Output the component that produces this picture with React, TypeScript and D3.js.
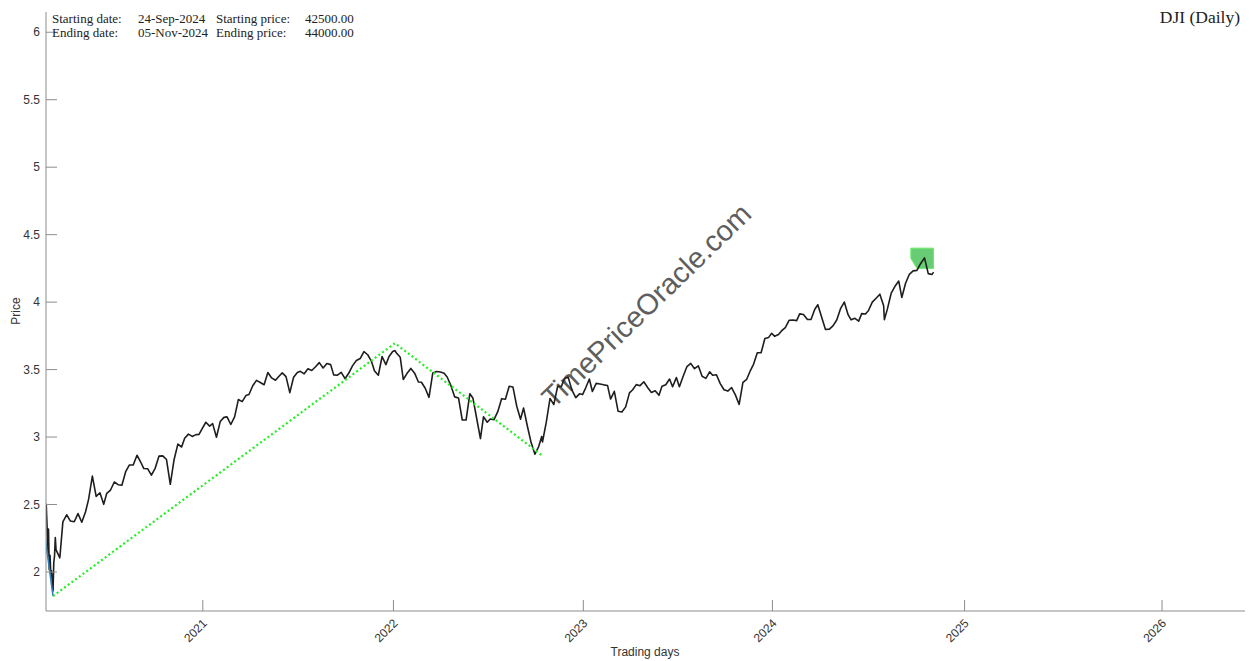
import React from "react";
import * as d3 from "d3";

// ---------- DATA ----------
const dailyDates = ["2020-03-09","2020-03-10","2020-03-11","2020-03-12","2020-03-13","2020-03-16","2020-03-17","2020-03-18","2020-03-19","2020-03-20","2020-03-23","2020-03-24","2020-03-25","2020-03-26","2020-03-27"];
const dailyClose = [23851,25018,23553,21200,23185,20189,21237,19899,20087,19174,18592,20705,21200,22552,21637];

const weekDates = [
"2020-04-03","2020-04-09","2020-04-17","2020-04-24","2020-05-01","2020-05-08","2020-05-15","2020-05-22","2020-05-29","2020-06-05","2020-06-12","2020-06-19","2020-06-26","2020-07-02","2020-07-10","2020-07-17","2020-07-24","2020-07-31","2020-08-07","2020-08-14","2020-08-21","2020-08-28","2020-09-04","2020-09-11","2020-09-18","2020-09-25","2020-10-02","2020-10-09","2020-10-16","2020-10-23","2020-10-30","2020-11-06","2020-11-13","2020-11-20","2020-11-27","2020-12-04","2020-12-11","2020-12-18","2020-12-24","2020-12-31",
"2021-01-08","2021-01-15","2021-01-22","2021-01-29","2021-02-05","2021-02-12","2021-02-19","2021-02-26","2021-03-05","2021-03-12","2021-03-19","2021-03-26","2021-04-01","2021-04-09","2021-04-16","2021-04-23","2021-04-30","2021-05-07","2021-05-14","2021-05-21","2021-05-28","2021-06-04","2021-06-11","2021-06-18","2021-06-25","2021-07-02","2021-07-09","2021-07-16","2021-07-23","2021-07-30","2021-08-06","2021-08-13","2021-08-20","2021-08-27","2021-09-03","2021-09-10","2021-09-17","2021-09-24","2021-10-01","2021-10-08","2021-10-15","2021-10-22","2021-10-29","2021-11-05","2021-11-12","2021-11-19","2021-11-26","2021-12-03","2021-12-10","2021-12-17","2021-12-23","2021-12-31",
"2022-01-05","2022-01-07","2022-01-14","2022-01-21","2022-01-28","2022-02-04","2022-02-11","2022-02-18","2022-02-25","2022-03-04","2022-03-11","2022-03-18","2022-03-25","2022-04-01","2022-04-08","2022-04-14","2022-04-22","2022-04-29","2022-05-06","2022-05-13","2022-05-20","2022-05-27","2022-06-03","2022-06-10","2022-06-17","2022-06-24","2022-07-01","2022-07-08","2022-07-15","2022-07-22","2022-07-29","2022-08-05","2022-08-12","2022-08-19","2022-08-26","2022-09-02","2022-09-09","2022-09-16","2022-09-23","2022-09-30","2022-10-07","2022-10-13","2022-10-14","2022-10-21","2022-10-28","2022-11-04","2022-11-11","2022-11-18","2022-11-25","2022-12-02","2022-12-09","2022-12-16","2022-12-23","2022-12-30",
"2023-01-06","2023-01-13","2023-01-20","2023-01-27","2023-02-03","2023-02-10","2023-02-17","2023-02-24","2023-03-03","2023-03-10","2023-03-17","2023-03-24","2023-03-31","2023-04-06","2023-04-14","2023-04-21","2023-04-28","2023-05-05","2023-05-12","2023-05-19","2023-05-26","2023-06-02","2023-06-09","2023-06-16","2023-06-23","2023-06-30","2023-07-07","2023-07-14","2023-07-21","2023-07-28","2023-08-04","2023-08-11","2023-08-18","2023-08-25","2023-09-01","2023-09-08","2023-09-15","2023-09-22","2023-09-29","2023-10-06","2023-10-13","2023-10-20","2023-10-27","2023-11-03","2023-11-10","2023-11-17","2023-11-24","2023-12-01","2023-12-08","2023-12-15","2023-12-22","2023-12-29",
"2024-01-05","2024-01-12","2024-01-19","2024-01-26","2024-02-02","2024-02-09","2024-02-16","2024-02-23","2024-03-01","2024-03-08","2024-03-15","2024-03-22","2024-03-28","2024-04-05","2024-04-12","2024-04-19","2024-04-26","2024-05-03","2024-05-10","2024-05-17","2024-05-24","2024-05-31","2024-06-07","2024-06-14","2024-06-21","2024-06-28","2024-07-05","2024-07-12","2024-07-19","2024-07-26","2024-08-02","2024-08-05","2024-08-09","2024-08-16","2024-08-23","2024-08-30","2024-09-06","2024-09-13","2024-09-20","2024-09-27","2024-10-04","2024-10-11","2024-10-18","2024-10-25","2024-11-01","2024-11-05"
];
const weekClose = [
21053,23719,24242,23775,23724,24331,23685,24465,25383,27111,25606,25871,25016,25827,26075,26672,26470,26428,27433,27931,27930,28654,28133,27666,27657,27174,27682,28586,28606,28335,26502,28323,29479,29263,29910,30218,30046,30179,30200,30606,
31098,30814,30997,29983,31148,31458,31494,30932,31496,32779,32628,33072,33153,33801,34200,34043,33875,34778,34382,34208,34529,34756,34480,33290,34434,34786,34870,34687,35062,34935,35209,35515,35120,35456,35369,34607,34584,34798,34326,34746,35295,35677,35820,36328,36100,35602,34899,34580,35971,35365,35950,36338,
36407,36231,35912,34265,34725,35089,34738,34079,34059,33615,32944,34755,34861,34818,34721,34451,33811,32977,32899,31262,31262,33213,32900,31393,29888,31501,31097,31338,31289,31899,32845,32803,33761,33707,32283,31318,32152,30822,29590,28726,29297,30038,29635,31083,32862,32403,33748,33746,34347,34430,33477,32920,33204,33147,
33631,34303,33375,33978,33926,33870,33827,32817,33391,31910,31862,32238,33274,33485,33886,33809,34098,33674,33301,33427,33093,33763,33877,34299,33727,34408,33735,34509,35228,35460,35066,35281,34501,34347,34838,34577,34618,33964,33508,33408,33670,33127,32418,34061,34283,34947,35390,36246,36248,37306,37386,37690,
37466,37593,37864,38109,38654,38671,38628,39131,39087,38723,38715,39476,39807,38904,37983,37986,38240,38676,39513,40004,39070,38686,38799,38589,39150,39119,39376,40001,40288,40589,39737,38703,39498,40660,41175,41563,40345,41394,42063,42313,42353,42864,43276,42114,42052,42222
];

const trendDates = ["2020-03-23","2022-01-05","2022-10-13"];
const trendPrices = [18213,36952,28660];

const blueDates = ["2020-02-12","2020-03-23"];
const bluePrices = [29568,18213];

const boxDates = ["2024-09-24","2024-11-05","2024-11-05","2024-10-04","2024-09-24"];
const boxPrices = [44000,44000,42500,42500,43250];

const yearTickDates = ["2021-01-04","2022-01-03","2023-01-03","2024-01-02","2025-01-01","2026-01-01"];
const yearTickLabels = ["2021","2022","2023","2024","2025","2026"];
const priceTicks = [2,2.5,3,3.5,4,4.5,5,5.5,6];

const infoRows = [
  ["Starting date:","24-Sep-2024","Starting price:","42500.00"],
  ["Ending date:","05-Nov-2024","Ending price:","44000.00"],
];

const HOLIDAYS = new Set([
"2020-02-17","2020-04-10","2020-05-25","2020-07-03","2020-09-07","2020-11-26","2020-12-25",
"2021-01-01","2021-01-18","2021-02-15","2021-04-02","2021-05-31","2021-07-05","2021-09-06","2021-11-25","2021-12-24",
"2022-01-17","2022-02-21","2022-04-15","2022-05-30","2022-06-20","2022-07-04","2022-09-05","2022-11-24","2022-12-26",
"2023-01-02","2023-01-16","2023-02-20","2023-04-07","2023-05-29","2023-06-19","2023-07-04","2023-09-04","2023-11-23","2023-12-25",
"2024-01-01","2024-01-15","2024-02-19","2024-03-29","2024-05-27","2024-06-19","2024-07-04","2024-09-02"
]);

// ---------- helpers ----------
const DAY = 86400000;
const ORIGIN = Date.parse("2020-03-09T00:00:00Z");
function isTrading(t: number) {
  const d = new Date(t);
  const wd = d.getUTCDay();
  if (wd === 0 || wd === 6) return false;
  return !HOLIDAYS.has(d.toISOString().slice(0, 10));
}
function tIndex(s: string) {
  const t = Date.parse(s + "T00:00:00Z");
  let n = 0;
  if (t >= ORIGIN) { for (let d = ORIGIN; d < t; d += DAY) if (isTrading(d)) n++; }
  else { for (let d = t; d < ORIGIN; d += DAY) if (isTrading(d)) n--; }
  return n;
}

const W = 1253, H = 661;
const M = { left: 46, right: 1245, top: 12, bottom: 611 };
const AXIS = "#8c8c8c";
const TXT = "#333";
const SANS = "'Liberation Sans', Arial, Helvetica, sans-serif";
const SERIF = "'Liberation Serif', 'Times New Roman', serif";

export default function App() {
  const x = d3.scaleLinear().domain([0.7, 1585.7]).range([M.left, M.right]);
  const y = d3.scaleLinear().domain([1.711, 6.15]).range([M.bottom, M.top]);

  const series = [
    ...dailyDates.map((d, i) => ({ i: tIndex(d), v: dailyClose[i] / 10000 })),
    ...weekDates.map((d, i) => ({ i: tIndex(d), v: weekClose[i] / 10000 })),
  ];
  const line = d3.line<{ i: number; v: number }>().x(p => x(p.i)).y(p => y(p.v));
  const trend = trendDates.map((d, k) => ({ i: tIndex(d), v: trendPrices[k] / 10000 }));
  const blue = blueDates.map((d, k) => ({ i: tIndex(d), v: bluePrices[k] / 10000 }));
  const box = boxDates.map((d, k) => ({ i: tIndex(d), v: boxPrices[k] / 10000 }));
  const yearTicks = yearTickDates.map((d, k) => ({ x: x(tIndex(d)), label: yearTickLabels[k] }));

  const cols = [52, 138, 216, 305];

  return (
    <svg width={W} height={H} style={{ position: "absolute", left: 0, top: 0, background: "#fff" }}>
      <defs>
        <clipPath id="plot">
          <rect x={M.left} y={M.top} width={M.right - M.left} height={M.bottom - M.top} />
        </clipPath>
      </defs>

      {/* watermark */}
      <text
        transform={`translate(648,307) rotate(-44)`}
        textAnchor="middle"
        dominantBaseline="middle"
        fontFamily={SANS}
        fontSize={29}
        fill="#5e5e5e"
      >TimePriceOracle.com</text>

      <g clipPath="url(#plot)">
        <path d={line(box)! + "Z"} fill="#4cc35a" fillOpacity={0.85} stroke="#66ee66" strokeWidth={1} />
        <path d={line(series)!} fill="none" stroke="#1e1e1e" strokeWidth={1.6} strokeLinejoin="round" />
        <path d={line(blue)!} fill="none" stroke="#2f7fb8" strokeWidth={1.6} />
        <path d={line(trend)!} fill="none" stroke="#22ee22" strokeWidth={2.2} strokeDasharray="2 2.6" />
      </g>

      {/* axes */}
      <line x1={M.left} x2={M.left} y1={M.top} y2={M.bottom} stroke={AXIS} strokeWidth={1} />
      <line x1={M.left} x2={M.right} y1={M.bottom} y2={M.bottom} stroke={AXIS} strokeWidth={1} />
      {priceTicks.map(t => (
        <g key={t}>
          <line x1={M.left} x2={M.left + 11} y1={y(t)} y2={y(t)} stroke={AXIS} />
          <text x={M.left - 6} y={y(t)} dy="0.35em" textAnchor="end" fontFamily={SANS} fontSize={12} fill={TXT}>{String(t)}</text>
        </g>
      ))}
      {yearTicks.map(t => (
        <g key={t.label}>
          <line x1={t.x} x2={t.x} y1={M.bottom} y2={M.bottom - 11} stroke={AXIS} />
          <text transform={`translate(${t.x + 5},${M.bottom + 13}) rotate(-45)`} textAnchor="end" fontFamily={SANS} fontSize={12} fill={TXT}>{t.label}</text>
        </g>
      ))}
      <text x={645} y={656} textAnchor="middle" fontFamily={SANS} fontSize={12} fill={TXT}>Trading days</text>
      <text transform="translate(20,311) rotate(-90)" textAnchor="middle" fontFamily={SANS} fontSize={12} fill={TXT}>Price</text>

      {/* info text */}
      {infoRows.map((row, r) => (
        <g key={r}>
          {row.map((s, c) => (
            <text key={c} x={cols[c]} y={23 + r * 13.5} fontFamily={SERIF} fontSize={13} fill="#222">{s}</text>
          ))}
        </g>
      ))}
      <text x={1240} y={23} textAnchor="end" fontFamily={SERIF} fontSize={17.5} fill="#222">DJI (Daily)</text>
    </svg>
  );
}
